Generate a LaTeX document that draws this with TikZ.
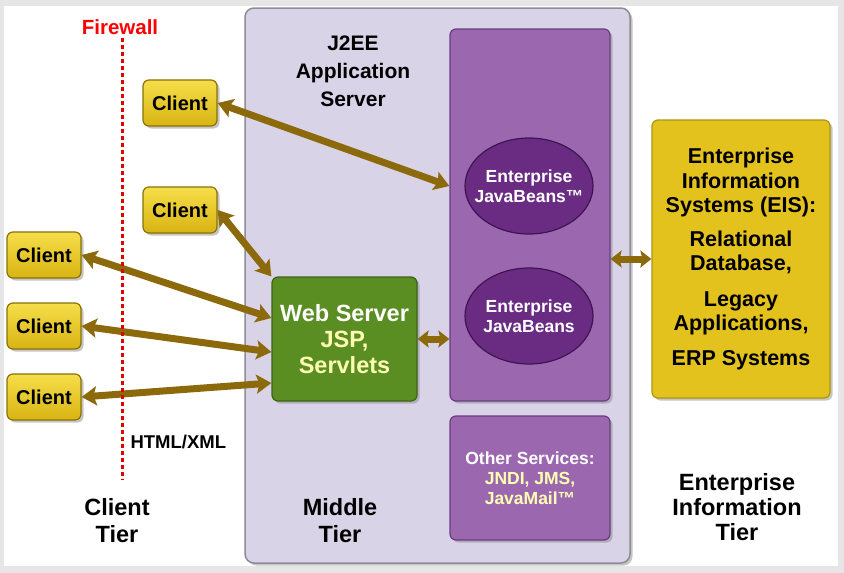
\documentclass[tikz,border=0pt]{standalone}
\usepackage{fontspec}
\setmainfont{Liberation Sans}
\usepackage{xcolor}
\usetikzlibrary{positioning, shapes.geometric, shadows, arrows.meta}

\definecolor{pagegray}{HTML}{E6E6E6}
\definecolor{midfill}{HTML}{D9D3E7}
\definecolor{midedge}{HTML}{8E8C96}
\definecolor{colfill}{HTML}{9B68AF}
\definecolor{coledge}{HTML}{6A3C82}
\definecolor{beanfill}{HTML}{6A2C83}
\definecolor{beanedge}{HTML}{3F1450}
\definecolor{webfill}{HTML}{5A8E22}
\definecolor{webedge}{HTML}{3C6414}
\definecolor{clienttop}{HTML}{F6DE4A}
\definecolor{clientbot}{HTML}{D8B412}
\definecolor{clientedge}{HTML}{8A7204}
\definecolor{eisfill}{HTML}{E3C21E}
\definecolor{eisedge}{HTML}{B0940E}
\definecolor{linkbrown}{HTML}{8C6A0B}
\definecolor{firered}{HTML}{E00000}
\definecolor{paleyellow}{HTML}{FFFFB4}

\begin{document}
\begin{tikzpicture}[x=1pt, y=-1pt,
    >={Stealth[inset=3pt, length=15pt, width=19pt]}, % Arrow tip style
    shade/.style={drop shadow={shadow xshift=2.5pt, shadow yshift=-2.5pt, opacity=0.45}},
    client/.style={draw=clientedge, line width=1.2pt, rounded corners=6pt, top color=clienttop, bottom color=clientbot,
        minimum width=74pt, minimum height=46pt, inner sep=0pt, font=\fontsize{20}{24}\selectfont\bfseries, shade},
    column/.style={draw=coledge, line width=1.2pt, rounded corners=6pt, fill=colfill, minimum width=160pt, shade},
    bean/.style={ellipse, draw=beanedge, line width=1.2pt, fill=beanfill, minimum width=128pt, minimum height=96pt,
        inner xsep=-14pt, inner ysep=0pt, align=center, text=white, font=\fontsize{17.5}{20}\selectfont\bfseries},
    label/.style={align=center, font=\fontsize{23.5}{27}\selectfont\bfseries},
    link/.style={<->, line width=7pt, draw=linkbrown},
    shortlink/.style={link, {Stealth[inset=2pt, length=11pt, width=17pt]}-{Stealth[inset=2pt, length=11pt, width=17pt]}}
]
    % Page and middle tier frame
    \fill[pagegray] (0,0) rectangle (844,573);
    \fill[white] (4,6) rectangle (838,566);
    \node[draw=midedge, line width=1.5pt, rounded corners=9pt, fill=midfill, minimum width=385pt, minimum height=555pt, shade] (middle) at (437.5,285.5) {};

    % Application server parts
    \node[column, minimum height=372pt] (ejbcol) at (530,215) {};
    \node[column, minimum height=124pt, align=center, text=white, font=\fontsize{17.5}{20}\selectfont\bfseries] (other) at (530,478)
        {Other Services:\\ \textcolor{paleyellow}{JNDI, JMS,}\\ \textcolor{paleyellow}{JavaMail™}};
    \node[bean] (ejb1) at (529,186) {Enterprise\\JavaBeans™};
    \node[bean] (ejb2) at (529,316) {Enterprise\\JavaBeans};
    \node[draw=webedge, line width=1.2pt, rounded corners=6pt, fill=webfill, minimum width=145pt, minimum height=124pt, align=center,
        text=paleyellow, font=\fontsize{23.5}{26}\selectfont\bfseries, shade] (web) at (344.5,339)
        {\textcolor{white}{Web Server}\\JSP,\\Servlets};
    \node[label, font=\fontsize{21}{28}\selectfont\bfseries] (j2ee) at (353,71) {J2EE\\Application\\Server};

    % EIS tier
    \node[draw=eisedge, line width=1.2pt, rounded corners=6pt, fill=eisfill, minimum width=178pt, minimum height=278pt, align=center,
        font=\fontsize{21.5}{24.5}\selectfont\bfseries, shade] (eis) at (741,259)
        {Enterprise\\Information\\Systems (EIS):\\[9pt] Relational\\Database,\\[11pt] Legacy\\Applications,\\[10pt] ERP Systems};

    % Clients
    \node[client] (c1) at (180,103) {Client};
    \node[client] (c2) at (180,210) {Client};
    \node[client] (c3) at (44,255) {Client};
    \node[client] (c4) at (44,326) {Client};
    \node[client] (c5) at (44,397) {Client};

    % Tier labels
    \node[label] (clienttier) at (117,521) {Client\\Tier};
    \node[label] (middletier) at (340,521) {Middle\\Tier};
    \node[label, font=\fontsize{23.5}{25}\selectfont\bfseries] (eistier) at (737,507) {Enterprise\\Information\\Tier};

    % Connections
    \draw[link] (c1.east) -- (ejbcol.west |- ejb1.center);
    \draw[link] (c2.east) -- (web.north west);
    \draw[link] (c3.east) -- ([yshift=21pt]web.west);
    \draw[link] (c4.east) -- ([yshift=-13pt]web.west);
    \draw[link] (c5.east) -- ([yshift=-44pt]web.west);
    \draw[shortlink] (web.east) -- (ejbcol.west |- web.east);
    \draw[shortlink] (ejbcol.east |- eis.west) -- (eis.west);

    % Firewall
    \node[text=red, font=\fontsize{20.5}{24}\selectfont\bfseries] (fw) at (120,27) {Firewall};
    \coordinate (fwend) at (122,480);
    \draw[firered, line width=3pt, dash pattern=on 4pt off 3pt] (fwend |- fw.south) -- (fwend);
    \node[anchor=west, font=\fontsize{18.5}{22}\selectfont\bfseries] (html) at (127,442) {HTML/XML};
\end{tikzpicture}
\end{document}
